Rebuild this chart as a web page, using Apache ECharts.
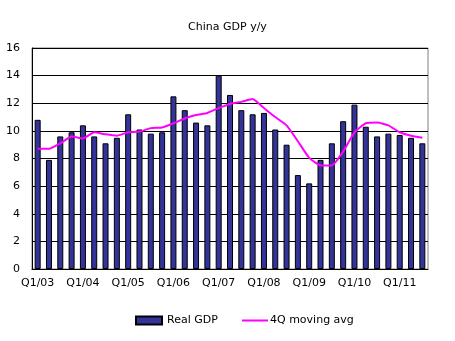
<!DOCTYPE html>
<html>
<head>
<meta charset="utf-8">
<script src="https://cdn.jsdelivr.net/npm/echarts@6/dist/echarts.min.js"></script>
<style>
  html, body { margin: 0; padding: 0; background: #fff; }
  #chart { width: 455px; height: 341px; }
</style>
</head>
<body>
<div id="chart"></div>
<script>
// Quarterly categories, Q1 2003 to Q3 2011
const quarters = [];
for (let y = 3; y <= 11; y++) {
  for (let q = 1; q <= 4; q++) {
    if (y === 11 && q > 3) break;
    quarters.push('Q' + q + '/' + String(y).padStart(2, '0'));
  }
}

// Real GDP growth, % y/y
const realGdp = [
  10.8, 7.9, 9.6, 9.9,
  10.4, 9.6, 9.1, 9.5,
  11.2, 10.1, 9.8, 9.9,
  12.5, 11.5, 10.6, 10.4,
  14.0, 12.6, 11.5, 11.2,
  11.3, 10.1, 9.0, 6.8,
  6.2, 7.9, 9.1, 10.7,
  11.9, 10.3, 9.6, 9.8,
  9.7, 9.5, 9.1
];

// Four-quarter moving average
const movingAvg = [
  8.7, 8.7, 9.1, 9.6,
  9.45, 9.9, 9.75, 9.65,
  9.9, 9.95, 10.2, 10.25,
  10.55, 10.9, 11.15, 11.3,
  11.65, 11.95, 12.1, 12.3,
  11.65, 11.0, 10.4, 9.25,
  8.05, 7.5, 7.5, 8.5,
  9.9, 10.55, 10.6, 10.4,
  9.9, 9.65, 9.5
];

const yTicks = { min: 0, max: 16, interval: 2 };

const chart = echarts.init(document.getElementById('chart'));
const font = 'DejaVu Sans';

chart.setOption({
  animation: false,
  title: {
    text: 'China GDP y/y',
    left: 'center',
    top: 17,
    textStyle: { fontFamily: font, fontSize: 11, fontWeight: 'normal', color: '#000' }
  },
  legend: [
    {
      data: ['Real GDP'],
      left: 130, top: 310,
      itemWidth: 26, itemHeight: 8,
      icon: 'rect',
      textStyle: { fontFamily: font, fontSize: 11, color: '#000' }
    },
    {
      data: ['4Q moving avg'],
      left: 237, top: 310,
      itemWidth: 26, itemHeight: 2,
      icon: 'rect',
      textStyle: { fontFamily: font, fontSize: 11, color: '#000', padding: [0, 0, 0, -3] }
    }
  ],
  grid: { left: 32, right: 27, top: 48, bottom: 72, containLabel: false,
          show: true, borderColor: '#808080', borderWidth: 1 },
  xAxis: {
    type: 'category',
    data: quarters,
    boundaryGap: true,
    axisLine: { lineStyle: { color: '#000', width: 1 } },
    axisTick: { interval: 3, length: 5, lineStyle: { color: '#000' } },
    axisLabel: { interval: 3, fontFamily: font, fontSize: 11, color: '#000', margin: 9 },
    splitLine: { show: false }
  },
  yAxis: {
    type: 'value',
    min: yTicks.min, max: yTicks.max, interval: yTicks.interval,
    axisLine: { show: true, lineStyle: { color: '#000', width: 1 } },
    axisTick: { show: false },
    axisLabel: { fontFamily: font, fontSize: 11, color: '#000', margin: 12 },
    splitLine: { lineStyle: { color: '#000', width: 1 } }
  },
  series: [
    {
      name: 'Real GDP',
      type: 'bar',
      data: realGdp,
      barWidth: 6,
      itemStyle: { color: '#333399', borderColor: '#000', borderWidth: 1 }
    },
    {
      name: '4Q moving avg',
      type: 'line',
      data: movingAvg,
      symbol: 'none',
      smooth: 0.15,
      lineStyle: { color: '#ff00ff', width: 2 },
      itemStyle: { color: '#ff00ff' },
      z: 5
    }
  ]
});
</script>
</body>
</html>
